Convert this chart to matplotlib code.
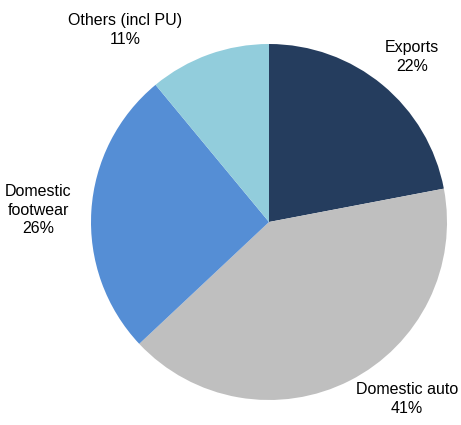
import matplotlib
matplotlib.use("Agg")
import matplotlib.pyplot as plt

labels = ["Exports", "Domestic auto", "Domestic\nfootwear", "Others (incl PU)"]
shares = [22, 41, 26, 11]
colors = ["#253D5E", "#BFBFBF", "#558ED5", "#92CDDC"]

# where each label sits (data coords of the full-figure axes)
label_pos = [(412, 368), (407, 26), (38, 215), (125, 395)]

plt.rcParams["font.family"] = ["Liberation Sans", "DejaVu Sans"]

fig = plt.figure(figsize=(4.61, 4.25), dpi=100)
ax = fig.add_axes([0, 0, 1, 1])

wedges, texts = ax.pie(shares, colors=colors, startangle=90, counterclock=False,
                       center=(269, 203), radius=178,
                       labels=[f"{l}\n{s}%" for l, s in zip(labels, shares)],
                       textprops={"fontsize": 11.5})

for t, pos in zip(texts, label_pos):
    t.set_position(pos)
    t.set_ha("center")
    t.set_va("center")
    t.set_linespacing(1.3)

ax.set_xlim(0, 461)
ax.set_ylim(0, 425)
ax.set_aspect("equal")
ax.axis("off")

fig.savefig("out.png", dpi=100)
